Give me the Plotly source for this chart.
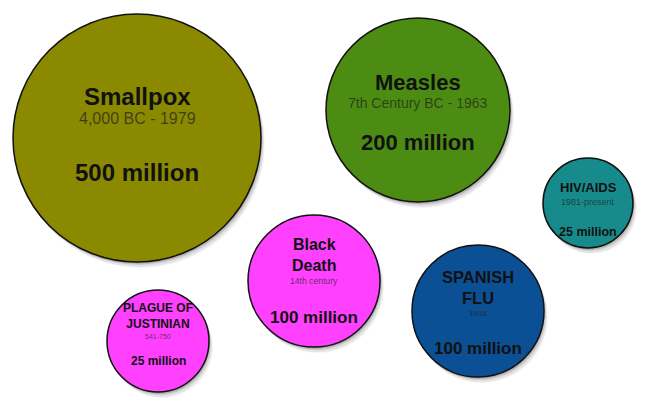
import plotly.graph_objects as go

# data
diseases = ["Smallpox", "Measles", "HIV/AIDS", "PLAGUE OF<br>JUSTINIAN", "Black<br>Death", "SPANISH<br>FLU"]
periods = ["4,000 BC - 1979", "7th Century BC - 1963", "1981-present", "541-750", "14th century", "1918"]
deaths_millions = [500, 200, 25, 25, 100, 100]

# layout of the bubbles (pixel space of the picture)
cx = [137, 418, 588, 158, 314, 478]
cy = [138, 110, 203, 341, 281, 311]
radius = [124, 92, 45, 51, 66, 66]
colors = ["#8b8900", "#4c8c12", "#178b8b", "#ff40ff", "#ff40ff", "#0b4f94"]

title_y = [96, 82, 187, 316, 255, 287]
sub_y = [118, 103, 202, 336, 281, 313]
value_y = [172, 142, 232, 361, 317, 348]
title_size = [24, 22, 13, 12, 16, 16.5]
sub_size = [16, 14, 9, 7, 8.6, 8]
value_size = [24, 22, 12.5, 12, 17, 17]

font = "Liberation Sans, Arial, sans-serif"

fig = go.Figure()
fig.add_trace(go.Scatter(x=cx, y=cy, mode="markers", marker=dict(opacity=0), hoverinfo="skip", showlegend=False))

shapes = []
for i in range(len(diseases)):
    # soft drop shadow
    for dx, dy, a in [(1, 2, 0.12), (2, 3, 0.10), (3, 5, 0.07), (4, 6, 0.04)]:
        shapes.append(dict(type="circle", xref="x", yref="y",
                           x0=cx[i] - radius[i] + dx, x1=cx[i] + radius[i] + dx,
                           y0=cy[i] - radius[i] + dy, y1=cy[i] + radius[i] + dy,
                           fillcolor=f"rgba(0,0,0,{a})", line=dict(width=0), layer="below"))
for i in range(len(diseases)):
    shapes.append(dict(type="circle", xref="x", yref="y",
                       x0=cx[i] - radius[i], x1=cx[i] + radius[i],
                       y0=cy[i] - radius[i], y1=cy[i] + radius[i],
                       fillcolor=colors[i], line=dict(color="#111111", width=1.5), layer="below"))

annotations = []
for i in range(len(diseases)):
    annotations.append(dict(x=cx[i], y=title_y[i], xref="x", yref="y", text="<b>" + diseases[i] + "</b>",
                            showarrow=False, font=dict(family=font, size=title_size[i], color="#111111")))
    annotations.append(dict(x=cx[i], y=sub_y[i], xref="x", yref="y", text=periods[i],
                            showarrow=False, font=dict(family=font, size=sub_size[i], color="rgba(30,30,30,0.7)")))
    annotations.append(dict(x=cx[i], y=value_y[i], xref="x", yref="y", text=f"<b>{deaths_millions[i]} million</b>",
                            showarrow=False, font=dict(family=font, size=value_size[i], color="#111111")))

fig.update_layout(width=658, height=402, margin=dict(l=0, r=0, t=0, b=0),
                  paper_bgcolor="white", plot_bgcolor="white",
                  shapes=shapes, annotations=annotations,
                  xaxis=dict(range=[0, 658], visible=False, fixedrange=True),
                  yaxis=dict(range=[402, 0], visible=False, fixedrange=True))

fig.write_html("out.html", config={"displayModeBar": False},
               post_script="document.body.style.margin='0px';")
